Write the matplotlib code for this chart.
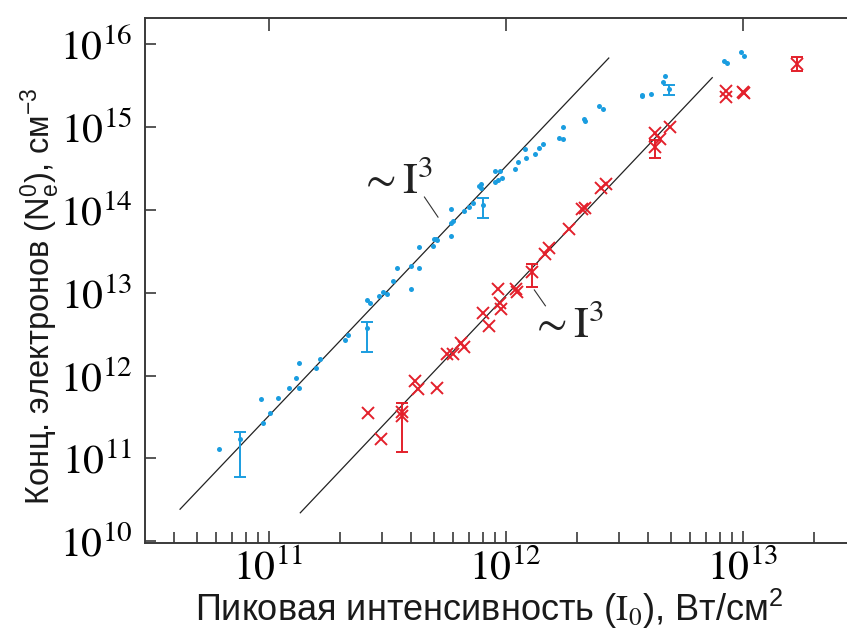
import math
import matplotlib
matplotlib.use('Agg')
import matplotlib.pyplot as plt
from matplotlib.ticker import FixedLocator, NullLocator, FuncFormatter

plt.rcParams['mathtext.fontset'] = 'stix'
plt.rcParams['font.family'] = ['Liberation Sans', 'DejaVu Sans']

# blue dots (I0, Ne0)
blue_x = [6.2e10, 9.25e10, 9.5e10, 1.01e11, 1.09e11, 1.22e11, 1.3e11, 1.34e11, 1.34e11,
          1.58e11, 1.65e11, 2.1e11, 2.17e11, 2.59e11, 2.68e11, 2.93e11, 3.04e11, 3.17e11,
          3.34e11, 3.49e11, 4.0e11, 4.0e11, 4.29e11, 4.3e11, 4.92e11, 4.98e11, 5.07e11,
          5.15e11, 5.87e11, 5.9e11, 6.0e11, 5.9e11, 6.7e11, 7.0e11, 7.3e11, 7.7e11, 7.85e11,
          7.9e11, 9.0e11, 9.05e11, 9.27e11, 9.5e11, 9.6e11, 1.09e12, 1.13e12, 1.21e12,
          1.22e12, 1.33e12, 1.38e12, 1.44e12, 1.67e12, 1.74e12, 1.75e12, 2.14e12, 2.16e12,
          2.48e12, 2.57e12, 3.74e12, 3.76e12, 4.11e12, 4.68e12, 4.6e12, 8.3e12, 8.6e12,
          9.8e12, 1.01e13]
blue_y = [1.3e11, 5.2e11, 2.66e11, 3.55e11, 5.3e11, 7.1e11, 9.3e11, 7.1e11, 1.42e12,
          1.23e12, 1.6e12, 2.66e12, 3.07e12, 8.1e12, 7.6e12, 9.2e12, 1.01e13, 9.7e12,
          1.39e13, 1.98e13, 1.12e13, 2.12e13, 2.0e13, 3.6e13, 3.66e13, 4.47e13, 4.47e13,
          4.3e13, 4.9e13, 6.9e13, 7.4e13, 1.03e14, 9.8e13, 1.09e14, 1.2e14, 1.97e14, 2.07e14,
          1.85e14, 2.95e14, 2.16e14, 2.32e14, 2.95e14, 2.4e14, 3.1e14, 3.8e14, 5.4e14,
          4.2e14, 4.7e14, 5.56e14, 6.3e14, 7.4e14, 7.2e14, 9.9e14, 1.26e15, 1.2e15,
          1.82e15, 1.66e15, 2.43e15, 2.35e15, 2.5e15, 4.17e15, 3.47e15, 6.3e15, 6.0e15,
          8.1e15, 7.3e15]

blue_err_x = [7.6e10, 2.6e11, 8.0e11, 4.86e12]
blue_err_y = [1.73e11, 3.73e12, 1.15e14, 2.9e15]
blue_err_lo = [5.9e10, 1.95e12, 7.96e13, 2.46e15]
blue_err_hi = [2.1e11, 4.4e12, 1.39e14, 3.24e15]

# red crosses
red_x = [2.62e11, 2.99e11, 3.65e11, 4.13e11, 4.26e11, 5.13e11, 5.68e11, 5.99e11, 6.48e11,
         6.7e11, 7.98e11, 8.5e11, 9.3e11, 9.5e11, 9.55e11, 1.1e12, 1.12e12, 1.46e12,
         1.52e12, 1.84e12, 2.1e12, 2.15e12, 2.53e12, 2.64e12, 4.27e12, 4.49e12, 4.94e12,
         8.5e12, 8.5e12, 1.0e13, 1.01e13]
red_y = [3.5e11, 1.73e11, 3.2e11, 8.7e11, 6.9e11, 7.1e11, 1.8e12, 1.8e12, 2.45e12,
         2.19e12, 5.7e12, 4.0e12, 1.1e13, 7.6e12, 6.3e12, 1.12e13, 1.01e13, 2.9e13,
         3.5e13, 5.95e13, 1.03e14, 1.06e14, 1.82e14, 2.07e14, 8.5e14, 7.2e14, 9.9e14,
         2.74e15, 2.28e15, 2.65e15, 2.6e15]

red_err_x = [3.66e11, 1.29e12, 4.25e12, 1.7e13]
red_err_y = [3.67e11, 1.8e13, 5.8e14, 5.8e15]
red_err_lo = [1.18e11, 1.17e13, 4.2e14, 4.8e15]
red_err_hi = [4.6e11, 2.2e13, 7.0e14, 7.1e15]

# ~I^3 guide lines (end points)
fit1_x = [4.23e10, 2.72e12]
fit1_y = [2.43e10, 6.82e15]
fit2_x = [1.36e11, 7.43e12]
fit2_y = [2.2e10, 3.95e15]

x_major = [1e11, 1e12, 1e13]
x_minor = [m * 10.0 ** e for e in (10, 11, 12, 13) for m in range(2, 10)]
y_major = [10.0 ** e for e in range(10, 17)]

blue = '#1a9de0'
red = '#e3202b'
dark = '#3a3a3a'

fig = plt.figure(figsize=(8.47, 6.35), dpi=100)
ax = fig.add_axes([0.1712, 0.1449, 0.8288, 0.8274])

ax.plot(fit1_x, fit1_y, color='#222222', lw=0.9)
ax.plot(fit2_x, fit2_y, color='#222222', lw=0.9)

ax.plot(blue_x, blue_y, 'o', color=blue, ms=3.6, mec='none')
ax.errorbar(blue_err_x, blue_err_y,
            yerr=[[y - lo for y, lo in zip(blue_err_y, blue_err_lo)],
                  [hi - y for y, hi in zip(blue_err_y, blue_err_hi)]],
            fmt='o', color=blue, ms=3.6, mec='none', elinewidth=1.4, capsize=4, capthick=1.4)

ax.plot(red_x, red_y, 'x', color=red, ms=8, mew=1.4)
ax.errorbar(red_err_x, red_err_y,
            yerr=[[y - lo for y, lo in zip(red_err_y, red_err_lo)],
                  [hi - y for y, hi in zip(red_err_y, red_err_hi)]],
            fmt='x', color=red, ms=8, mew=1.4, elinewidth=1.4, capsize=4, capthick=1.4)

# labels ~I^3 with leader lines
ax.text(2.4e11, 1.61e14, r'$\sim\mathrm{I}^3$', fontsize=32, color='#222222',
        ha='left', va='baseline')
ax.plot([4.54e11, 5.18e11], [1.43e14, 8.18e13], color='#333333', lw=0.8)
ax.text(1.26e12, 2.94e12, r'$\sim\mathrm{I}^3$', fontsize=32, color='#222222',
        ha='left', va='baseline')
ax.plot([1.32e12, 1.47e12], [1.08e13, 6.95e12], color='#333333', lw=0.8)

ax.set_xscale('log')
ax.set_yscale('log')
ax.set_xlim(3.01e10, 2.75e13)
ax.set_ylim(9.5e9, 2.1e16)


def power_label(v, pos):
    return r'$\mathrm{10}^{%d}$' % round(math.log10(v))


ax.xaxis.set_major_locator(FixedLocator(x_major))
ax.xaxis.set_minor_locator(FixedLocator([v for v in x_minor if 3.0e10 < v < 2.75e13]))
ax.yaxis.set_major_locator(FixedLocator(y_major))
ax.yaxis.set_minor_locator(NullLocator())
ax.xaxis.set_major_formatter(FuncFormatter(power_label))
ax.yaxis.set_major_formatter(FuncFormatter(power_label))

ax.tick_params(axis='x', which='major', direction='in', length=9, width=1.2, color=dark,
               top=True, bottom=True, labelsize=30, pad=4)
ax.tick_params(axis='x', which='minor', direction='in', length=8, width=1.2, color=dark,
               top=False, bottom=True)
ax.tick_params(axis='y', which='major', direction='in', length=8, width=1.2, color=dark,
               left=True, right=False, labelsize=30, pad=9)

for side in ['left', 'bottom', 'top']:
    ax.spines[side].set_color(dark)
    ax.spines[side].set_linewidth(1.4)
ax.spines['right'].set_visible(False)

ax.set_xlabel(r'Пиковая интенсивность ($\mathrm{I}_0$), Вт/см$\mathregular{^2}$',
              fontsize=26, color='#1a1a1a')
ax.xaxis.set_label_coords(0.49, -0.1485)
ax.xaxis.label.set_verticalalignment('baseline')
ax.set_ylabel(r'Конц. электронов ($\mathregular{N_e^0}$), см$\mathregular{^{-3}}$',
              fontsize=23.5, color='#1a1a1a')
ax.yaxis.set_label_coords(-0.1353, 0.47)
ax.yaxis.label.set_verticalalignment('baseline')

fig.savefig('out.png', dpi=100)
